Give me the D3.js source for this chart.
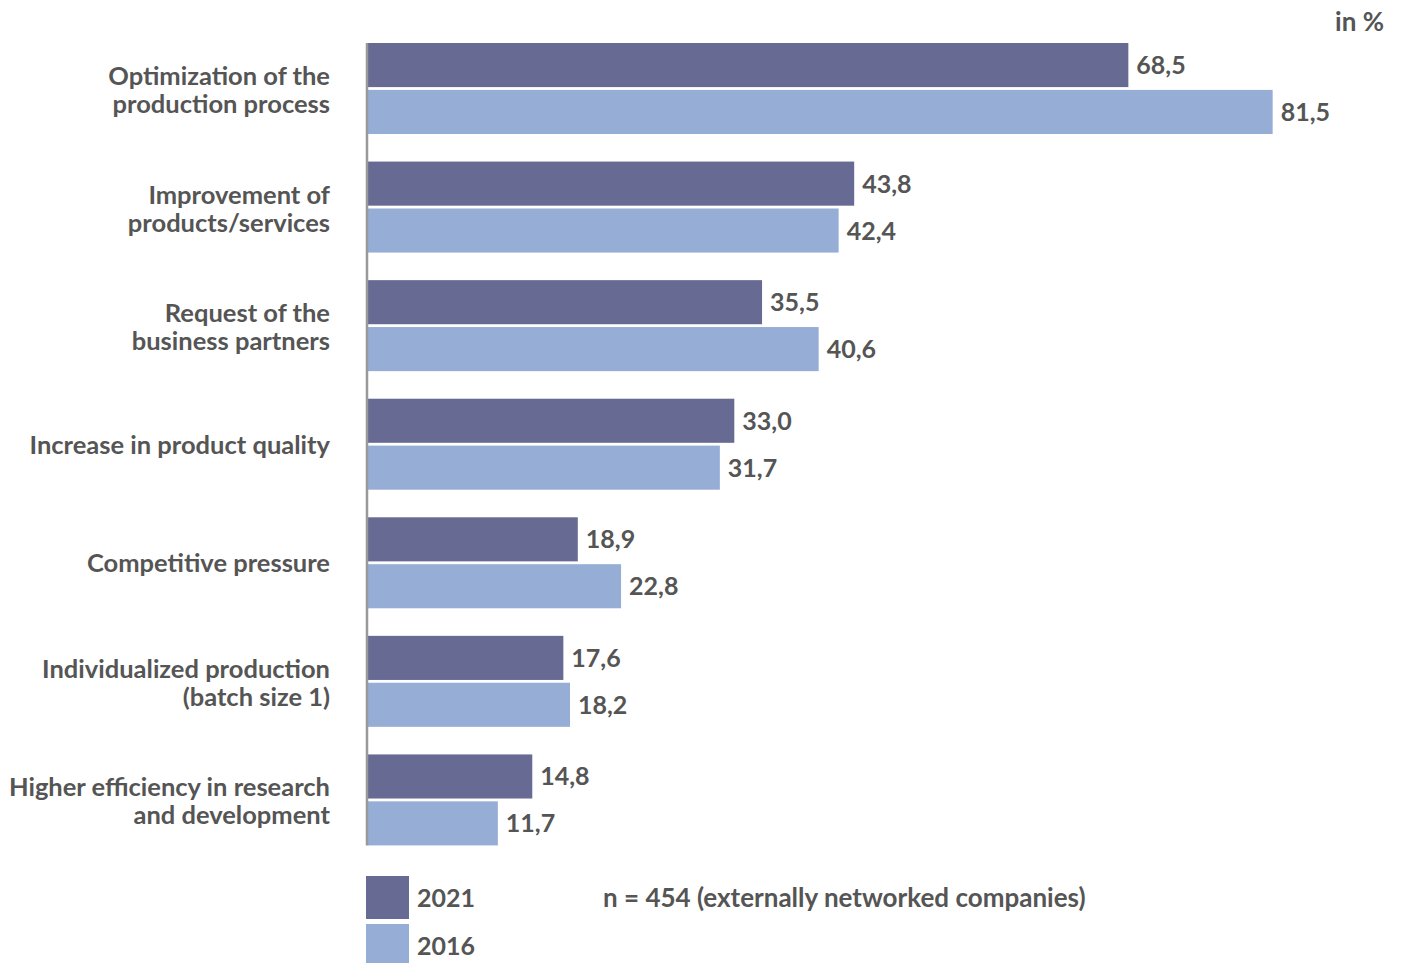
<!DOCTYPE html>
<html>
<head>
<meta charset="utf-8">
<script src="https://cdn.jsdelivr.net/npm/d3@7"></script>
<style>
  html, body { margin: 0; padding: 0; background: #fff; }
  svg text { font-family: "Lato", "Open Sans", sans-serif; font-weight: 700; fill: #555; }
</style>
</head>
<body>
<svg id="chart" width="1401" height="963"></svg>
<script>
// Reasons for networking, share of companies in percent
const categories = [
  ["Optimization of the", "production process"],
  ["Improvement of", "products/services"],
  ["Request of the", "business partners"],
  ["Increase in product quality"],
  ["Competitive pressure"],
  ["Individualized production", "(batch size 1)"],
  ["Higher efficiency in research", "and development"]
];
const years = ["2021", "2016"];
const values2021 = [68.5, 43.8, 35.5, 33.0, 18.9, 17.6, 14.8];
const values2016 = [81.5, 42.4, 40.6, 31.7, 22.8, 18.2, 11.7];
const colors = ["#676a92", "#96aed6"];
const unitLabel = "in %";
const sampleNote = "n = 454 (externally networked companies)";

const svg = d3.select("#chart");
const fmt = v => d3.format(".1f")(v).replace(".", ",");

const x = d3.scaleLinear().domain([0, 100]).range([368, 1478]);
const y = d3.scaleBand().domain(d3.range(categories.length)).range([43, 873]).paddingInner(0).paddingOuter(0);
const inner = d3.scaleBand().domain(years).range([0, 91]).paddingInner(0.06);

const series = [values2021, values2016];

const groups = svg.selectAll("g.cat")
  .data(categories.map((c, i) => ({ label: c, i })))
  .join("g")
  .attr("class", "cat")
  .attr("transform", d => `translate(0,${y(d.i)})`);

years.forEach((yr, s) => {
  groups.append("rect")
    .attr("x", x(0))
    .attr("y", inner(yr))
    .attr("width", d => x(series[s][d.i]) - x(0))
    .attr("height", inner.bandwidth())
    .attr("fill", colors[s]);
  groups.append("text")
    .attr("x", d => x(series[s][d.i]) + 8)
    .attr("y", inner(yr) + inner.bandwidth() / 2 + 9)
    .attr("font-size", 25)
    .text(d => fmt(series[s][d.i]));
});

// category labels, right aligned against the axis
groups.each(function (d) {
  const g = d3.select(this);
  const lines = d.label;
  const mid = 45;
  const t = g.append("text")
    .attr("text-anchor", "end")
    .attr("font-size", 25.5)
    .attr("x", 330);
  if (lines.length === 1) {
    t.append("tspan").attr("x", 330).attr("y", mid + 10).text(lines[0]);
  } else {
    t.append("tspan").attr("x", 330).attr("y", mid - 3).text(lines[0]);
    t.append("tspan").attr("x", 330).attr("y", mid + 25).text(lines[1]);
  }
});

// vertical baseline axis
svg.append("line")
  .attr("x1", 367).attr("x2", 367)
  .attr("y1", 43).attr("y2", y(categories.length - 1) + 91)
  .attr("stroke", "#999").attr("stroke-width", 2.5);

// unit label
svg.append("text")
  .attr("x", 1384).attr("y", 31)
  .attr("text-anchor", "end")
  .attr("font-size", 26)
  .text(unitLabel);

// legend
const legend = svg.append("g").attr("transform", "translate(366,876)");
years.forEach((yr, s) => {
  legend.append("rect")
    .attr("x", 0).attr("y", s * 48)
    .attr("width", 43).attr("height", 43)
    .attr("fill", colors[s]);
  legend.append("text")
    .attr("x", 51).attr("y", s * 48 + 31)
    .attr("font-size", 25)
    .text(yr);
});
svg.append("text")
  .attr("x", 603).attr("y", 907)
  .attr("font-size", 26)
  .text(sampleNote);
</script>
</body>
</html>
